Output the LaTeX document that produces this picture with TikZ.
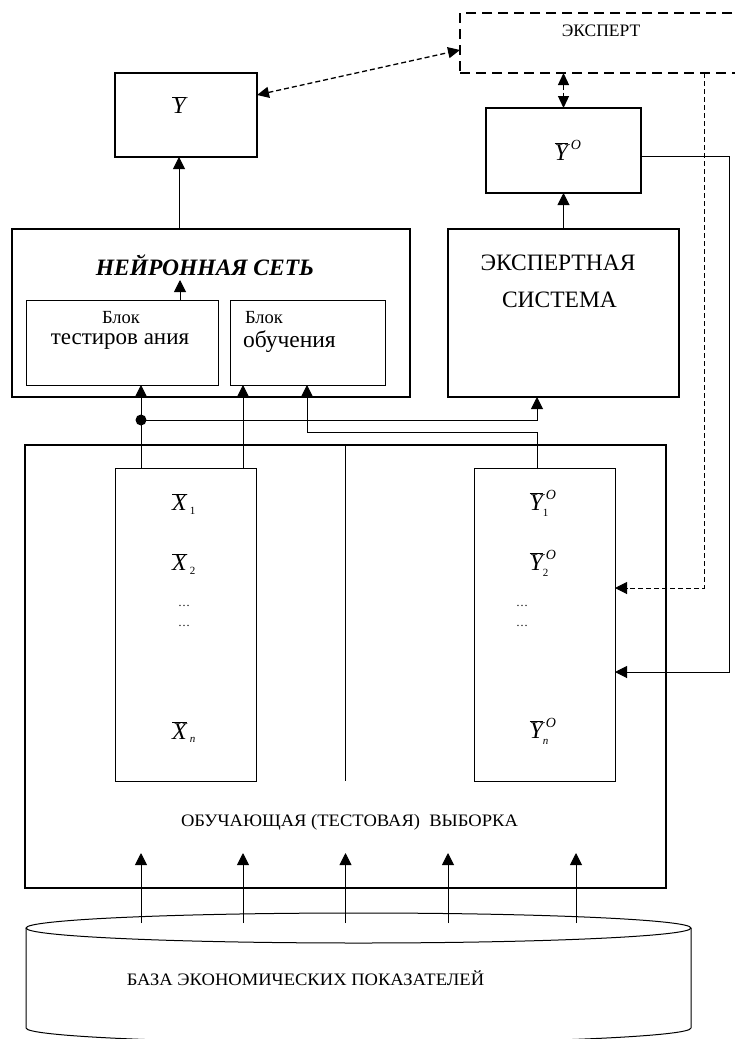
\documentclass[tikz,border=0pt]{standalone}
\usepackage{fontspec}
\setmainfont{Liberation Serif}
\usetikzlibrary{arrows.meta,calc}
\newcommand{\fs}[1]{\fontsize{#1}{#1}\selectfont}
\newcommand{\ob}[1]{\overline{\hbox{\itshape #1}}}
\begin{document}
\begin{tikzpicture}[x=1pt,y=-1pt,
  thickbox/.style={draw, line width=2.2pt, inner sep=0pt, outer sep=0pt, rectangle},
  thinbox/.style={draw, line width=1pt, inner sep=0pt, outer sep=0pt, rectangle},
  expbox/.style={draw, line width=2.5pt, dash pattern=on 10pt off 6pt, inner sep=0pt, outer sep=0pt, rectangle},
  arr/.style={line width=1pt, -{Triangle[length=12pt,width=12pt]}},
  darr/.style={line width=1.3pt, dash pattern=on 5pt off 3pt, {Triangle[length=12pt,width=11pt]}-{Triangle[length=12pt,width=11pt]}},
  dline/.style={line width=1pt, dash pattern=on 5pt off 3pt, -{Triangle[length=12pt,width=12pt]}},
  txt/.style={inner sep=0pt, outer sep=0pt}]
\useasboundingbox (0,0) rectangle (735,1039);

% top boxes
\node[thickbox, minimum width=142pt, minimum height=84pt] (Ybox) at (186,115) {};
\node[txt] (Ytxt) at (179,105) {\fs{24}$\ob{Y}$};
\node[expbox, minimum width=282pt, minimum height=60pt] (Exp) at (601,43) {};
\node[txt] (Exptxt) at (601,31) {\fs{17.5}ЭКСПЕРТ};
\node[thickbox, minimum width=155pt, minimum height=85pt] (YO) at (563.5,150.5) {};
\node[txt] (YOtxt) at (568,150) {\fs{24}$\ob{Y}^{\,\hbox{\fs{14}\itshape O}}$};

% neural network
\node[thickbox, minimum width=398pt, minimum height=168pt] (NN) at (211,313) {};
\node[txt] (NNtxt) at (205,265) {\fs{23.5}\bfseries\itshape НЕЙРОННАЯ СЕТЬ};
\node[thinbox, minimum width=192pt, minimum height=85pt] (test) at (122,342.5) {};
\node[txt] (t1) at (121,318) {\fs{18.5}Блок};
\node[txt] (t2) at (120,342) {\fs{23}тестиров ания};
\node[thinbox, minimum width=155pt, minimum height=85pt] (learn) at (307.5,342.5) {};
\node[txt, anchor=west] (l1) at (245,318) {\fs{18.5}Блок};
\node[txt, anchor=west] (l2) at (243,342) {\fs{23.5}обучения};

% expert system
\node[thickbox, minimum width=231pt, minimum height=168pt] (ES) at (563.5,313) {};
\node[txt] (e1) at (558,263) {\fs{23.5}ЭКСПЕРТНАЯ};
\node[txt] (e2) at (559.5,300) {\fs{23.5}СИСТЕМА};

% sample
\node[thickbox, minimum width=641pt, minimum height=443pt] (big) at (345.5,666.5) {};
\node[thinbox, minimum width=141pt, minimum height=313pt] (colL) at (186,624.5) {};
\node[thinbox, minimum width=141pt, minimum height=313pt] (colR) at (544.5,624.5) {};
\draw[line width=1pt] (big.north) -- (big.north |- colL.south);
\node[txt] (x1) at (184,504) {\fs{24}$\ob{X}_{\,\hbox{\fs{11}1}}$};
\node[txt] (x2) at (184,564) {\fs{24}$\ob{X}_{\,\hbox{\fs{11}2}}$};
\node[txt] (xd1) at (184,606) {\fs{12}\dots};
\node[txt] (xd2) at (184,626) {\fs{12}\dots};
\node[txt] (xn) at (184,732) {\fs{24}$\ob{X}_{\,\hbox{\fs{11}\itshape n}}$};
\node[txt] (y1) at (543,503) {\fs{24}$\ob{Y}_{\hbox{\fs{11}1}}^{\,\hbox{\fs{14}\itshape O}}$};
\node[txt] (y2) at (543,563) {\fs{24}$\ob{Y}_{\hbox{\fs{11}2}}^{\,\hbox{\fs{14}\itshape O}}$};
\node[txt] (yd1) at (522,606) {\fs{12}\dots};
\node[txt] (yd2) at (522,626) {\fs{12}\dots};
\node[txt] (yn) at (543,731) {\fs{24}$\ob{Y}_{\hbox{\fs{11}\itshape n}}^{\,\hbox{\fs{14}\itshape O}}$};
\node[txt] (sample) at (349.5,822) {\scalebox{1.06}[1]{\fs{17.5}ОБУЧАЮЩАЯ (ТЕСТОВАЯ)\ \ ВЫБОРКА}};

% database cylinder
\draw[line width=1pt] (26,928) -- (26,1028) arc[start angle=180, end angle=360, x radius=332.5pt, y radius=15pt] -- (691,928);
\draw[line width=1pt] (358.5,928) ellipse [x radius=332.5pt, y radius=15pt];
\node[txt] (dbtxt) at (305.5,978) {\scalebox{1.06}[1]{\fs{17.5}БАЗА ЭКОНОМИЧЕСКИХ ПОКАЗАТЕЛЕЙ}};

% coordinates
\coordinate (yin) at (179,0);
\coordinate (nnin) at (180,280);
\coordinate (r1) at (729,672);
\coordinate (r2) at (704,588);
\coordinate (a1) at (141,420);
\coordinate (a2) at (243,420);
\coordinate (a3) at (307,432);
\coordinate (a4) at (537,432);
\coordinate (s1) at (141,923);
\coordinate (s2) at (243,923);
\coordinate (s3) at (345.5,923);
\coordinate (s4) at (448,923);
\coordinate (s5) at (576,923);

% connectors
\draw[arr] (NN.north -| yin) -- (Ybox.south -| yin);
\draw[arr] (test.north -| nnin) -- (nnin);
\draw[arr] (ES.north) -- (YO.south);
\draw[darr] ([yshift=20pt]Ybox.east) -- ([yshift=-7pt]Exp.west);
\draw[darr] (Exp.south -| YO.north) -- (YO.north);
\draw[arr] ([yshift=-5.5pt]YO.east) -| (r1) -- (colR.east |- r1);
\draw[dline] (Exp.south -| r2) -- (r2) -- (colR.east |- r2);
\draw[arr] (colL.north -| a1) -- (test.south -| a1);
\draw[arr] (colL.north -| a2) -- (learn.south -| a2);
\draw[arr] (a1) -- (a1 -| a4) -- (ES.south -| a4);
\draw[arr] (colR.north -| a4) -- (a4) -- (a3) -- (learn.south -| a3);
\fill (a1) circle (5.5pt);
\foreach \s in {s1,s2,s3,s4,s5}
  \draw[arr] (\s) -- ($(big.south -| \s)+(0,-35)$);
\end{tikzpicture}
\end{document}
